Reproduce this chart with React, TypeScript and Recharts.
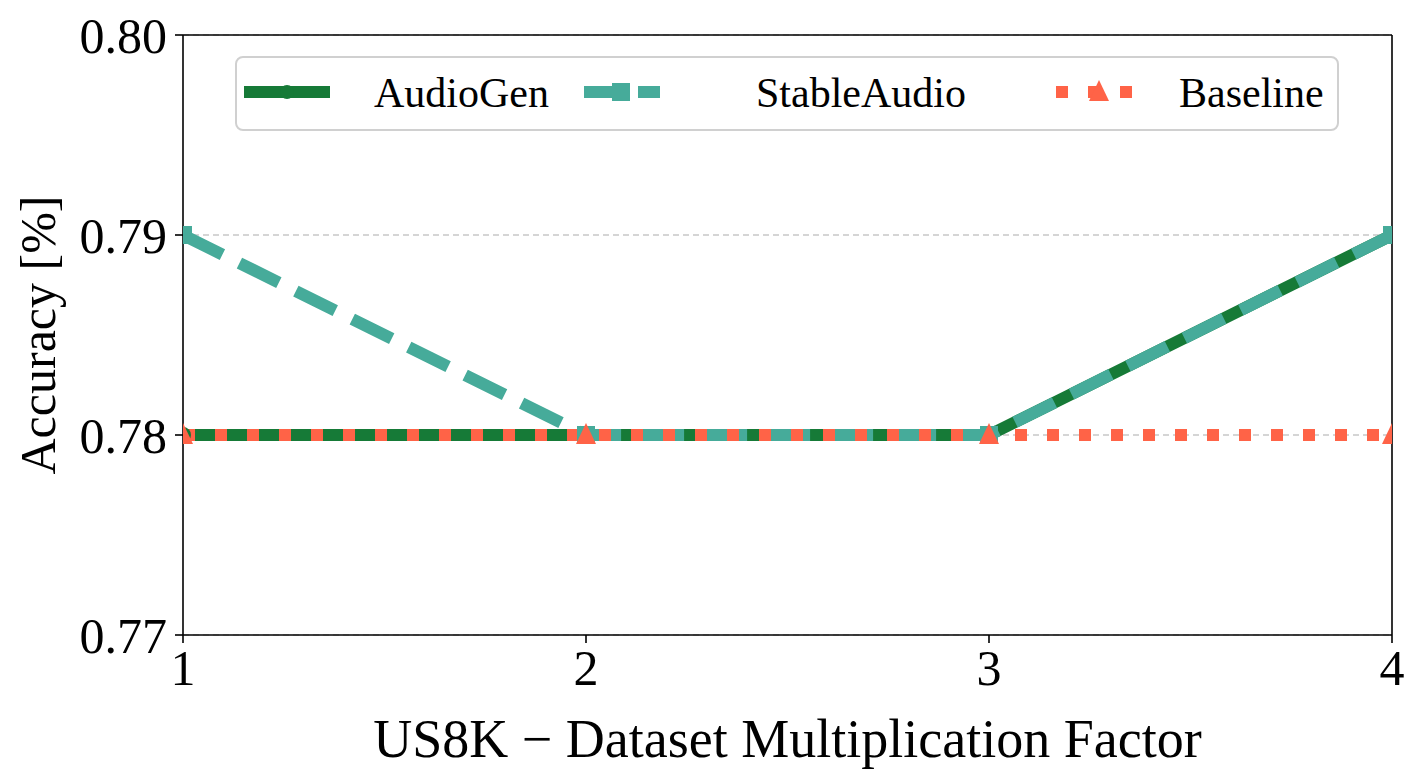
import { LineChart, Line, XAxis, YAxis, CartesianGrid, Legend, ReferenceLine, Label } from 'recharts';

const factors = [1, 2, 3, 4];
const audioGen = [0.78, 0.78, 0.78, 0.79];
const stableAudio = [0.79, 0.78, 0.78, 0.79];
const baseline = [0.78, 0.78, 0.78, 0.78];
const yTicks = [0.77, 0.78, 0.79, 0.8];

const GREEN = '#167a37';
const TEAL = '#46ab9a';
const RED = '#ff6347';
const FONT = '"Liberation Serif", "DejaVu Serif", serif';

const rows = factors.map((f, i) => ({ f, audioGen: audioGen[i], stableAudio: stableAudio[i], baseline: baseline[i] }));

const circleDot = (p: any) => <circle key={`c${p.index}`} cx={p.cx} cy={p.cy} r={8} fill={GREEN} />;
const squareDot = (p: any) => <rect key={`s${p.index}`} x={p.cx - 9} y={p.cy - 9} width={18} height={18} fill={TEAL} />;
const triDot = (p: any) => (
  <path key={`t${p.index}`} d={`M${p.cx},${p.cy - 12} L${p.cx + 10},${p.cy + 9} L${p.cx - 10},${p.cy + 9} Z`} fill={RED} />
);

function LegendBox() {
  const sy = 36;
  return (
    <svg width={1104} height={75} style={{ display: 'block', overflow: 'visible' }}>
      <rect x={1} y={1} width={1102} height={73} rx={7} fill="#fff" fillOpacity={0.8} stroke="#d0d0d0" strokeWidth={2} />
      <line x1={9} x2={95} y1={sy} y2={sy} stroke={GREEN} strokeWidth={12} />
      <circle cx={52} cy={sy} r={7} fill={GREEN} />
      <text x={139} y={sy + 15} fontSize={42} fontFamily={FONT} fill="#000">AudioGen</text>
      <line x1={349} x2={425} y1={sy} y2={sy} stroke={TEAL} strokeWidth={12} strokeDasharray="45 9 22" />
      <rect x={377} y={sy - 9} width={18} height={18} fill={TEAL} />
      <text x={521} y={sy + 15} fontSize={42} fontFamily={FONT} fill="#000">StableAudio</text>
      <line x1={821} x2={907} y1={sy} y2={sy} stroke={RED} strokeWidth={12} strokeDasharray="12 20" />
      <path d={`M864,${sy - 12} L874,${sy + 9} L854,${sy + 9} Z`} fill={RED} />
      <text x={944} y={sy + 15} fontSize={42} fontFamily={FONT} fill="#000">Baseline</text>
    </svg>
  );
}

export default function App() {
  const tick = { fill: '#000', fontSize: 50, fontFamily: FONT };
  return (
    <div style={{ position: 'absolute', left: 0, top: 0, width: 1420, height: 775, background: '#fff' }}>
      <LineChart width={1420} height={775} data={rows} margin={{ top: 35, right: 28, bottom: 10, left: 83 }}>
        <CartesianGrid vertical={false} stroke="#c8c8c8" strokeWidth={1.5} strokeDasharray="6 4" />
        <XAxis
          dataKey="f"
          type="number"
          domain={[1, 4]}
          ticks={factors}
          allowDataOverflow
          height={130}
          stroke="#000"
          strokeWidth={1.6}
          tickSize={8}
          tickMargin={6}
          tick={tick}
          tickLine={{ stroke: '#000', strokeWidth: 1.6 }}
        >
          <Label value="US8K − Dataset Multiplication Factor" position="insideBottom" offset={8} fill="#000" fontSize={54} fontFamily={FONT} />
        </XAxis>
        <YAxis
          type="number"
          domain={[0.77, 0.8]}
          ticks={yTicks}
          allowDataOverflow
          width={100}
          stroke="#000"
          strokeWidth={1.6}
          tickSize={8}
          tickMargin={8}
          tick={tick}
          tickFormatter={(v: number) => v.toFixed(2)}
          tickLine={{ stroke: '#000', strokeWidth: 1.6 }}
        >
          <Label value="Accuracy [%]" angle={-90} position="center" dx={-96} fill="#000" fontSize={50} fontFamily={FONT} />
        </YAxis>
        <Line dataKey="audioGen" stroke={GREEN} strokeWidth={12} strokeLinejoin="miter" dot={circleDot} activeDot={false} isAnimationActive={false} />
        <Line dataKey="stableAudio" stroke={TEAL} strokeWidth={12} strokeDasharray="44 19" strokeLinejoin="miter" dot={squareDot} activeDot={false} isAnimationActive={false} />
        <Line dataKey="baseline" stroke={RED} strokeWidth={12} strokeDasharray="12 20" dot={triDot} activeDot={false} isAnimationActive={false} />
        <ReferenceLine y={0.8} stroke="#000" strokeWidth={1.6} />
        <ReferenceLine x={4} stroke="#000" strokeWidth={1.6} />
        <Legend
          layout="horizontal"
          verticalAlign="middle"
          content={() => <LegendBox />}
          wrapperStyle={{ position: 'absolute', left: 235, top: 56, width: 1104, height: 75 }}
        />
      </LineChart>
    </div>
  );
}
